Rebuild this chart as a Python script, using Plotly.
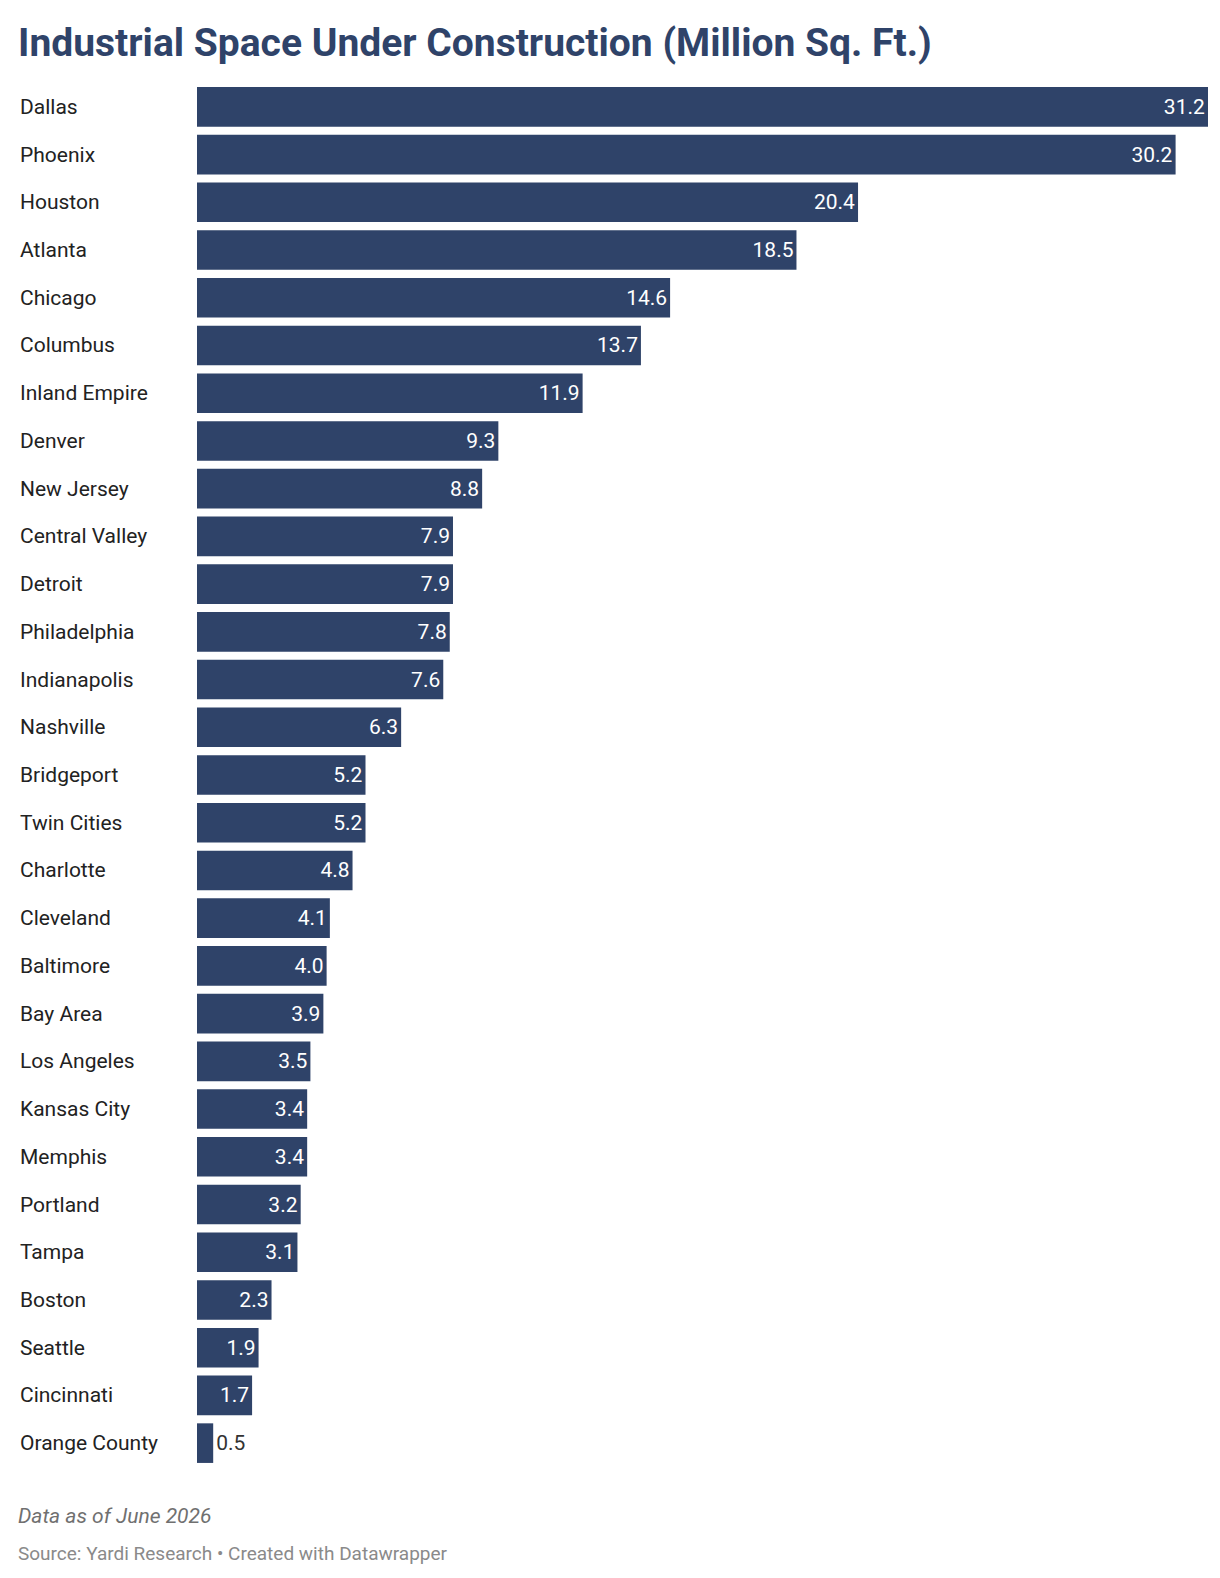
import plotly.graph_objects as go

cities = ["Dallas", "Phoenix", "Houston", "Atlanta", "Chicago", "Columbus", "Inland Empire",
          "Denver", "New Jersey", "Central Valley", "Detroit", "Philadelphia", "Indianapolis",
          "Nashville", "Bridgeport", "Twin Cities", "Charlotte", "Cleveland", "Baltimore",
          "Bay Area", "Los Angeles", "Kansas City", "Memphis", "Portland", "Tampa", "Boston",
          "Seattle", "Cincinnati", "Orange County"]
values = [31.2, 30.2, 20.4, 18.5, 14.6, 13.7, 11.9, 9.3, 8.8, 7.9, 7.9, 7.8, 7.6, 6.3,
          5.2, 5.2, 4.8, 4.1, 4.0, 3.9, 3.5, 3.4, 3.4, 3.2, 3.1, 2.3, 1.9, 1.7, 0.5]

bar_color = "#2f4369"
positions = ["inside" if v >= 1 else "outside" for v in values]
text_colors = ["white" if v >= 1 else "#333333" for v in values]

fig = go.Figure(go.Bar(
    x=values, y=cities, orientation="h",
    marker=dict(color=bar_color, line=dict(width=0)),
    text=[f"{v:.1f}" for v in values],
    textposition=positions,
    insidetextanchor="end",
    textfont=dict(family="Roboto", size=21, color=text_colors),
    constraintext="none",
    cliponaxis=False,
    hoverinfo="skip",
))

# city labels on the left
for c in cities:
    fig.add_annotation(x=0, y=c, xref="paper", yref="y", text=c, showarrow=False,
                       xanchor="left", xshift=-179,
                       font=dict(family="Roboto", size=21, color="#222222"))

fig.add_annotation(x=0, y=1, xref="paper", yref="paper", text="<b>Industrial Space Under Construction (Million Sq. Ft.)</b>",
                   showarrow=False, xanchor="left", yanchor="middle", xshift=-181, yshift=40,
                   font=dict(family="Roboto", size=39, color="#2f4369"))
fig.add_annotation(x=0, y=0, xref="paper", yref="paper", text="<i>Data as of June 2026</i>",
                   showarrow=False, xanchor="left", yanchor="middle", xshift=-181, yshift=-49,
                   font=dict(family="Roboto", size=21, color="#707070"))
fig.add_annotation(x=0, y=0, xref="paper", yref="paper",
                   text="Source: Yardi Research • Created with Datawrapper",
                   showarrow=False, xanchor="left", yanchor="middle", xshift=-181, yshift=-86,
                   font=dict(family="Roboto", size=19, color="#8a8a8a"))

fig.update_layout(
    width=1220, height=1578,
    margin=dict(l=189, r=20, t=75, b=119),
    plot_bgcolor="white", paper_bgcolor="white",
    bargap=0.17, showlegend=False,
    xaxis=dict(range=[0, 31.2], visible=False, fixedrange=True),
    yaxis=dict(autorange="reversed", showticklabels=False, showgrid=False, zeroline=False),
)

fig.write_html("out.html")
